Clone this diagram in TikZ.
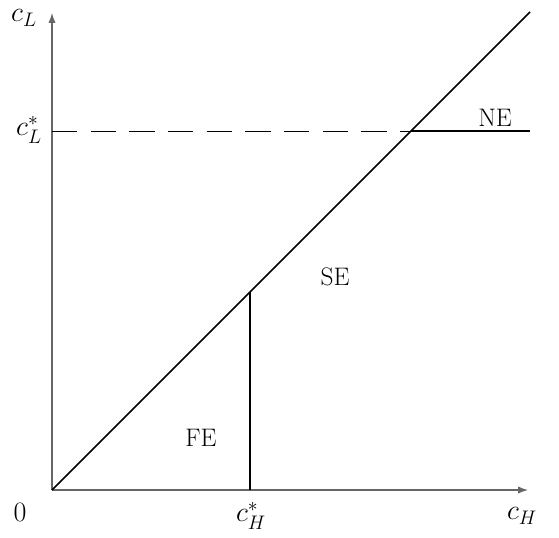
\RequirePackage{fix-cm}
\documentclass[tikz,border=0pt]{standalone}
\usepackage{amsmath,amssymb}
\usepackage{tikz}
\usetikzlibrary{arrows.meta,positioning,calc}
\definecolor{axisgray}{HTML}{7F7F7F}
\tikzset{
  >={Latex[length=2.6mm,width=1.9mm]},
  % axlar och kurvor
  ax/.style={->,draw=axisgray!80!black,line width=0.9pt},
  gr/.style={draw=black,line width=1.1pt},
  dsh/.style={draw=black,line width=0.6pt,dash pattern=on 19pt off 10pt},
  lbl/.style={font=\fontsize{21}{24}\selectfont,inner sep=1pt},
  reg/.style={font=\fontsize{19}{22}\selectfont,inner sep=1pt},
}
\begin{document}
\begin{tikzpicture}[x=0.75pt,y=0.75pt]
  \useasboundingbox (0,0) rectangle (559,537);
  \coordinate (o) at (52,47);
  \coordinate (xe) at (528,47);
  \coordinate (ye) at (52,524);
  \coordinate (de) at (530,525);
  \coordinate (cl) at (52,406);
  \coordinate (ne) at (411,406);
  \coordinate (nr) at (530,406);
  \coordinate (ch) at (250,47);
  \coordinate (sb) at (250,245);
  \node[lbl] (lcl) at (24,519) {$c_L$};
  \node[lbl] (lcls) at (29,407) {$c_L^*$};
  \node[lbl] (lo) at (20,25) {$0$};
  \node[lbl] (lchs) at (251,21) {$c_H^*$};
  \node[lbl] (lch) at (522,21) {$c_H$};
  \node[reg] (lne) at (495,419) {NE};
  \node[reg] (lse) at (335,260) {SE};
  \node[reg] (lfe) at (201,99) {FE};
  \draw[ax] (o) -- (xe);
  \draw[ax] (o) -- (ye);
  \draw[gr] (o) -- (de);
  \draw[dsh] (cl) -- (ne);
  \draw[gr] (ne) -- (nr);
  \draw[gr] (ch) -- (sb);
\end{tikzpicture}
\end{document}
